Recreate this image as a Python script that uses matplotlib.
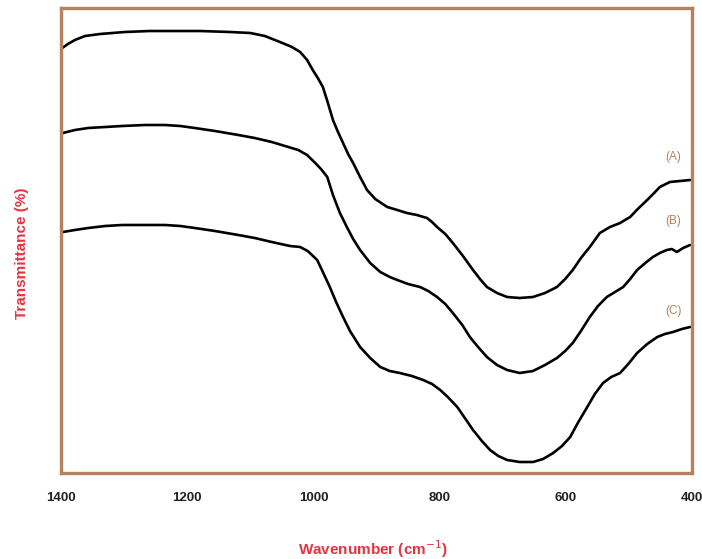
import matplotlib
matplotlib.use("Agg")
import matplotlib.pyplot as plt

plt.rcParams['font.family'] = ['Liberation Sans', 'DejaVu Sans']

# Wavenumber (cm^-1) and transmittance (arbitrary units, offset curves)
wn_a = [1398, 1389, 1378, 1362, 1338, 1299, 1259, 1180, 1132, 1100, 1077, 1053, 1034, 1021,
        1010, 1001, 993, 985, 977, 969, 961, 953, 945, 937, 926, 915, 902, 883, 867, 852,
        836, 820, 812, 804, 791, 779, 763, 747, 736, 725, 709, 693, 673, 652, 633, 614,
        601, 589, 576, 562, 546, 530, 514, 498, 486, 471, 460, 451, 435, 419, 403]
t_a = [425, 429, 433, 437, 439, 441, 442, 442, 441, 440, 437, 431, 426, 421,
       413, 403, 395, 386, 370, 353, 341, 330, 319, 310, 296, 283, 274, 266, 263, 260,
       258, 255, 251, 246, 239, 230, 217, 203, 194, 186, 180, 176, 175, 176, 180, 186,
       194, 203, 215, 226, 240, 246, 250, 256, 264, 273, 280, 286, 291, 292, 293]

wn_b = [1397, 1378, 1357, 1330, 1303, 1267, 1235, 1211, 1188, 1156, 1119, 1093, 1066, 1045,
        1024, 1010, 997, 988, 978, 969, 958, 947, 937, 926, 910, 894, 879, 867, 850, 831,
        818, 804, 791, 779, 764, 752, 739, 725, 709, 693, 673, 652, 633, 614, 601, 589,
        576, 562, 549, 535, 522, 509, 498, 487, 474, 462, 451, 440, 432, 424, 414, 403]
t_b = [340, 343, 345, 346, 347, 348, 348, 347, 345, 342, 338, 335, 331, 327,
       323, 318, 310, 304, 296, 278, 260, 246, 234, 223, 210, 201, 196, 193, 189, 186,
       182, 176, 169, 160, 148, 136, 126, 116, 108, 103, 100, 102, 108, 115, 122, 130,
       142, 156, 167, 176, 181, 186, 194, 203, 210, 216, 220, 223, 224, 221, 225, 228]

wn_c = [1397, 1378, 1357, 1330, 1303, 1267, 1235, 1211, 1188, 1156, 1119, 1093, 1066, 1037,
        1021, 1009, 994, 985, 974, 964, 953, 942, 926, 910, 894, 879, 863, 844, 826, 812,
        799, 787, 772, 760, 747, 733, 720, 707, 693, 673, 652, 636, 620, 606, 593, 581,
        566, 554, 541, 528, 514, 501, 487, 471, 455, 443, 430, 416, 403]
t_c = [241, 243, 245, 247, 248, 248, 248, 247, 245, 242, 238, 235, 231, 227,
       226, 222, 213, 201, 186, 171, 156, 142, 126, 115, 106, 102, 100, 97, 93, 89,
       83, 76, 66, 55, 43, 32, 23, 17, 13, 11, 11, 14, 20, 27, 36, 50,
       66, 79, 90, 96, 100, 109, 120, 129, 136, 139, 141, 144, 146]

series_labels = ['(A)', '(B)', '(C)']
label_wn = [430, 430, 430]
label_t = [316, 252, 162]
tick_values = [1400, 1200, 1000, 800, 600, 400]

brown = '#b4825c'
red = '#e8323f'

fig = plt.figure(figsize=(7.02, 5.59), dpi=100)
ax = fig.add_axes([61/702, 1 - 473/559, 631/702, 465/559])

for wn, t in [(wn_a, t_a), (wn_b, t_b), (wn_c, t_c)]:
    ax.plot(wn, t, color='black', lw=1.9, solid_joinstyle='round', solid_capstyle='round')

ax.set_xlim(1400, 400)
ax.set_ylim(0, 465)
ax.set_xticks(tick_values)
ax.set_xticklabels([str(v) for v in tick_values], fontsize=9.5, fontweight='bold',
                   color='#222222')
ax.tick_params(axis='x', length=0, pad=14)
ax.set_yticks([])
for s in ax.spines.values():
    s.set_color(brown)
    s.set_linewidth(2.4)

for lab, x, y in zip(series_labels, label_wn, label_t):
    ax.text(x, y, lab, color=brown, fontsize=8.5, ha='center', va='center')

fig.text(373/702, 1 - 549/559, 'Wavenumber (cm$^{-1}$)', color=red, fontsize=11,
         fontweight='bold', ha='center', va='center')
fig.text(22/702, 1 - 253/559, 'Transmittance (%)', color=red, fontsize=11,
         fontweight='bold', ha='center', va='center', rotation=90)

fig.savefig('out.png', dpi=100)
